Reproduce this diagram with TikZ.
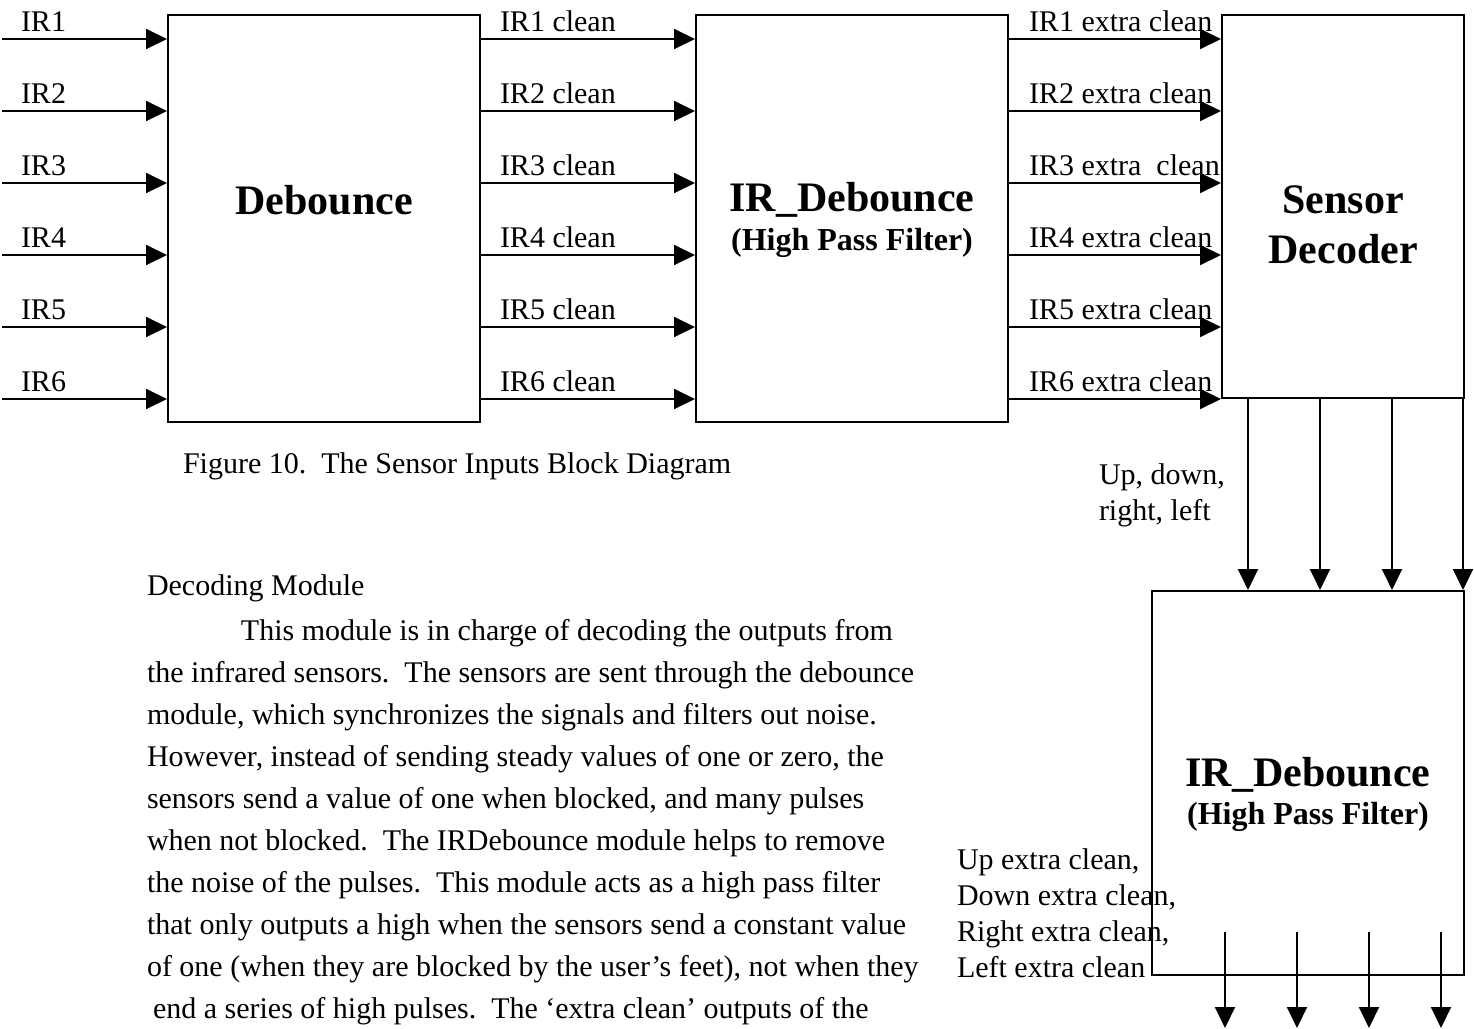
\documentclass[tikz,border=0pt]{standalone}
\usepackage{fontspec}
\setmainfont{Liberation Serif}
\usetikzlibrary{arrows.meta,positioning}
\frenchspacing

\begin{document}
\begin{tikzpicture}[x=0.5pt, y=-0.5pt, line width=1pt,
    block/.style={draw, inner sep=0pt},
    sig/.style={-{Triangle[length=10.5pt,width=10pt]}},
    title/.style={font=\bfseries\fontsize{21}{25}\selectfont, align=center},
    sub/.style={font=\bfseries\fontsize{16}{19}\selectfont},
    lbl/.style={font=\fontsize{15}{18}\selectfont, inner sep=0pt, anchor=base west}]
    \useasboundingbox (0,0) rectangle (1474,1029);
    \node[block, minimum width=156pt, minimum height=203.5pt] (deb) at (324,218.5) {};
    \node[block, minimum width=156pt, minimum height=203.5pt] (hpf) at (852,218.5) {};
    \node[block, minimum width=121pt, minimum height=191.5pt] (dec) at (1343,206.5) {};
    \node[block, minimum width=156pt, minimum height=192pt] (hpf2) at (1308,783) {};
    \node[title] (debT) at (324,200) {Debounce};
    \node[title] (hpfT) at (852,200) {IR\_Debounce}; \node[sub] (hpfS) at (852,243) {(High Pass Filter)};
    \node[title] (decT) at (1343,225) {Sensor\\Decoder};
    \node[title] (hpf2T) at (1308,775) {IR\_Debounce}; \node[sub] (hpf2S) at (1308,817) {(High Pass Filter)};
    \foreach \i in {1,...,6} {
        \coordinate (in\i) at (2,{39+72*(\i-1)});
        \draw[sig] (in\i) -- (in\i -| deb.west);
        \node[lbl] (inL\i) at (20,{31+72*(\i-1)}) {IR\i};
        \draw[sig] (deb.east |- in\i) -- (hpf.west |- in\i);
        \node[lbl] (clL\i) at (499,{31+72*(\i-1)}) {IR\i{} clean};
        \draw[sig] (hpf.east |- in\i) -- (dec.west |- in\i);
    }
    \foreach \i/\t in {1/extra clean,2/extra clean,3/extra~ clean,4/extra clean,5/extra clean,6/extra clean}
        {\node[lbl] (xcL\i) at (1028,{31+72*(\i-1)}) {IR\i{} \t};}
    \foreach \x [count=\k] in {1248,1320,1392,1463} {
        \coordinate (dn\k) at (\x,398);
        \draw[sig] (dn\k) -- (dn\k |- hpf2.north);
    }
    \foreach \x [count=\k] in {1225,1297,1369,1441} {
        \coordinate (os\k) at (\x,932); \coordinate (oe\k) at (\x,1028);
        \draw[sig] (os\k) -- (oe\k);
    }
    \node[lbl, anchor=west, align=left] (udrl) at (1098,495) {Up, down,\\right, left};
    \node[lbl, anchor=west, align=left] (outL) at (956,913.5) {Up extra clean,\\Down extra clean,\\Right extra clean,\\Left extra clean};
    \node[lbl] (cap) at (182,473) {Figure 10.~ The Sensor Inputs Block Diagram};
    \node[lbl] (head) at (146,595) {Decoding Module};
    \foreach \t [count=\k] in {
        {\hspace{47pt}This module is in charge of decoding the outputs from},
        {the infrared sensors.~ The sensors are sent through the debounce},
        {module, which synchronizes the signals and filters out noise.},
        {However, instead of sending steady values of one or zero, the},
        {sensors send a value of one when blocked, and many pulses},
        {when not blocked.~ The IRDebounce module helps to remove},
        {the noise of the pulses.~ This module acts as a high pass filter},
        {that only outputs a high when the sensors send a constant value},
        {of one (when they are blocked by the user’s feet), not when they},
        {\hspace{3pt}end a series of high pulses.~ The ‘extra clean’ outputs of the}}
        {\node[lbl] (body\k) at (146,{640+42*(\k-1)}) {\t};}
\end{tikzpicture}
\end{document}
